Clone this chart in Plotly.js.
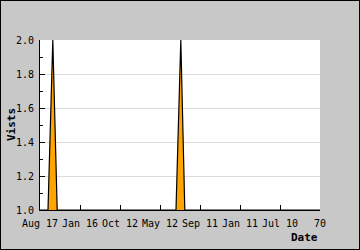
<!DOCTYPE html>
<html><head><meta charset="utf-8">
<script src="https://cdn.plot.ly/plotly-3.0.1.min.js"></script>
<style>html,body{margin:0;padding:0;background:#c8c8c8}</style>
</head><body>
<div id="chart" style="width:360px;height:250px;box-sizing:border-box;border:1px solid #000"></div>
<script>
// x positions on the date axis (tick index units) and visit counts
var xPos   = [0, 0.20, 0.32, 0.43, 3.40, 3.52, 3.62, 7];
var visits = [1, 1,    2,    1,    1,    2,    1,    1];
var tickPos    = [0, 1, 2, 3, 4, 5, 6, 7];
var tickLabels = ['Aug 17', 'Jan 16', 'Oct 12', 'May 12', 'Sep 11', 'Jan 11', 'Jul 10', '70'];

var font = {family: 'DejaVu Sans Mono, monospace', size: 10, color: '#000'};
var trace = {
  x: xPos, y: visits, type: 'scatter', mode: 'lines',
  fill: 'tozeroy', fillcolor: '#ffa500',
  line: {color: '#000', width: 1.2}, hoverinfo: 'none'
};
var layout = {
  width: 358, height: 248,
  margin: {l: 39, r: 39, t: 39, b: 39},
  paper_bgcolor: '#c8c8c8', plot_bgcolor: '#fff',
  showlegend: false,
  font: font,
  xaxis: {
    range: [0, 7], tickvals: tickPos, ticktext: tickLabels,
    ticks: 'inside', ticklen: 5, tickcolor: '#000', ticklabelstandoff: 4,
    showline: true, linecolor: '#000', linewidth: 1,
    showgrid: false, zeroline: false, tickfont: font
  },
  yaxis: {
    range: [1, 2], dtick: 0.2, tickformat: '.1f',
    ticks: 'inside', ticklen: 5, tickcolor: '#000', ticklabelstandoff: 3,
    minor: {ticks: 'inside', ticklen: 3, dtick: 0.1, tickcolor: '#000', showgrid: false},
    showline: true, linecolor: '#000', linewidth: 1,
    showgrid: true, gridcolor: '#dcdcdc', zeroline: false, tickfont: font
  },
  annotations: [
    {text: '<b>Date</b>', xref: 'paper', yref: 'paper', x: 1, y: 0, yshift: -27,
     xanchor: 'right', yanchor: 'middle', showarrow: false,
     font: {family: 'DejaVu Sans Mono, monospace', size: 11, color: '#000'}},
    {text: '<b>Vists</b>', xref: 'paper', yref: 'paper', x: 0, y: 0.5, xshift: -29,
     xanchor: 'center', yanchor: 'middle', textangle: -90, showarrow: false,
     font: {family: 'DejaVu Sans Mono, monospace', size: 11, color: '#000'}}
  ]
};
Plotly.newPlot('chart', [trace], layout, {displayModeBar: false, staticPlot: true});
</script>
</body></html>
